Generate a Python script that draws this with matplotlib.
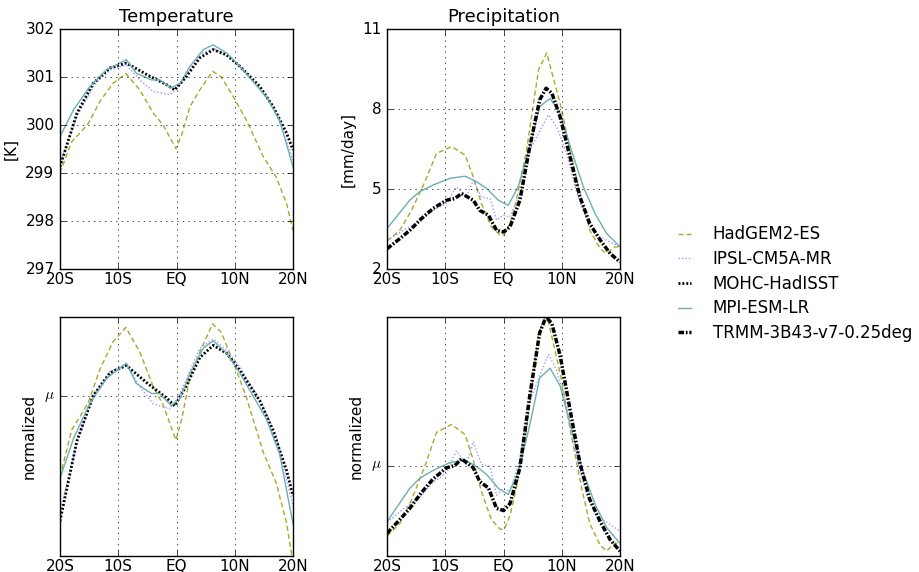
import numpy as np
import matplotlib
matplotlib.use('Agg')
import matplotlib.pyplot as plt
from matplotlib.ticker import ScalarFormatter

plt.style.use('classic')
plt.rcParams['font.family'] = ['DejaVu Sans']
plt.rcParams['figure.facecolor'] = 'white'
plt.rcParams['lines.scale_dashes'] = False

# Temperature zonal profiles [K]
lat_had_t = [-20, -18, -16.6, -15.1, -13.1, -10.9, -8.7, -6.3, -4, -2.3, -0.1, 0.9, 2.3, 4, 6.2, 7.7, 9.7, 12, 14.9, 17.1, 18.9, 20]
had_t = [299.0, 299.65, 299.83, 300.04, 300.5, 300.87, 301.07, 300.73, 300.25, 300.0, 299.51, 299.8, 300.38, 300.73, 301.12, 301.0, 300.6, 300.1, 299.34, 298.92, 298.36, 297.8]

lat_ipsl_t = [-20, -17, -14, -11.4, -8.6, -6.3, -4, -1.1, 0.6, 4, 6.3, 8.6, 11, 14.3, 17, 20]
ipsl_t = [299.2, 300.2, 300.85, 301.15, 301.25, 300.94, 300.7, 300.63, 300.84, 301.47, 301.6, 301.45, 301.2, 300.75, 300.3, 299.27]

lat_mohc_t = [-20, -17.1, -14.3, -11.4, -8.6, -5.1, -1.7, -0.3, 1.7, 4, 6.3, 8.6, 10.9, 14.3, 16.6, 18.9, 20]
mohc_t = [299.13, 300.24, 300.87, 301.19, 301.29, 301.05, 300.84, 300.73, 301.01, 301.4, 301.57, 301.46, 301.22, 300.8, 300.38, 299.83, 299.48]

lat_mpi_t = [-20, -17.7, -14.9, -12, -8.6, -6.9, -4.3, -2.9, -0.9, 0.6, 2.3, 4.6, 6.3, 8.6, 10.9, 15.4, 17.7, 20]
mpi_t = [299.76, 300.31, 300.8, 301.15, 301.36, 301.08, 300.94, 300.94, 300.77, 300.87, 301.22, 301.57, 301.67, 301.5, 301.22, 300.59, 300.1, 299.13]

# Precipitation zonal profiles [mm/day]
lat_had_p = [-20, -17.8, -15.8, -13.5, -11.5, -8.9, -6.6, -5.2, -3.8, -2.1, -0.6, 0.1, 1.1, 2.2, 3.95, 6, 7.4, 8.5, 10, 11.4, 13.4, 14.8, 16.6, 17.7, 19.1, 20]
had_p = [3.05, 3.45, 4.2, 5.27, 6.34, 6.59, 6.27, 5.46, 4.46, 3.58, 3.27, 3.27, 3.7, 4.58, 6.46, 9.47, 10.1, 9.2, 7.96, 6.46, 4.58, 3.45, 2.76, 2.58, 2.83, 2.83]

lat_ipsl_p = [-20, -17.2, -14.4, -12.1, -9.8, -8.1, -6.4, -5.2, -3.8, -2.3, -1.2, -0.1, 1.1, 2.8, 4.5, 6, 7.7, 9.1, 10.8, 12.6, 14.3, 16, 17.7, 20]
ipsl_p = [3.08, 3.45, 3.77, 4.2, 4.46, 5.08, 4.7, 5.33, 4.7, 4.64, 3.83, 4.02, 3.95, 4.83, 6.46, 7.09, 7.78, 7.34, 6.34, 4.83, 3.83, 3.27, 3.08, 2.83]

lat_mpi_p = [-20, -16.1, -14.4, -12.1, -9.2, -6.6, -4.6, -2.9, -0.9, 0.8, 2.5, 4.5, 6.2, 8, 9.7, 12, 13.7, 15.7, 17.7, 20]
mpi_p = [3.52, 4.58, 4.9, 5.15, 5.4, 5.48, 5.27, 5.02, 4.58, 4.39, 5.08, 6.59, 8.09, 8.4, 7.84, 6.21, 5.08, 4.08, 3.33, 2.83]

lat_trmm_p = [-20, -17.8, -16.1, -14.1, -12.1, -9.8, -8.4, -7.2, -5.2, -4.1, -2.6, -1.2, 0, 1.1, 2.8, 4.5, 6.2, 7.3, 8.3, 9.7, 11.4, 13.1, 14.8, 16.6, 18.3, 20]
trmm_p = [2.76, 3.14, 3.45, 3.89, 4.27, 4.58, 4.64, 4.83, 4.58, 4.2, 4.02, 3.45, 3.39, 3.58, 4.58, 6.59, 8.34, 8.78, 8.59, 7.71, 6.21, 4.71, 3.7, 3.08, 2.58, 2.26]

xticks = [-20, -10, 0, 10, 20]
xticklabels = ['20S', '10S', 'EQ', '10N', '20N']

styles = {
    'HadGEM2-ES': dict(color='#a8a82a', ls=(0, (3.6, 2.2)), lw=1.0),
    'IPSL-CM5A-MR': dict(color='#9999ff', ls=(0, (1, 1.5)), lw=1.0),
    'MOHC-HadISST': dict(color='black', ls=(0, (1.4, 1.4)), lw=2.0),
    'MPI-ESM-LR': dict(color='#6ab0b0', ls='-', lw=1.0),
    'TRMM-3B43-v7-0.25deg': dict(color='black', ls=(0, (4, 1.3, 1.2, 1.3)), lw=2.5),
}

temp = [('HadGEM2-ES', lat_had_t, had_t), ('IPSL-CM5A-MR', lat_ipsl_t, ipsl_t),
        ('MOHC-HadISST', lat_mohc_t, mohc_t), ('MPI-ESM-LR', lat_mpi_t, mpi_t)]
prec = [('HadGEM2-ES', lat_had_p, had_p), ('IPSL-CM5A-MR', lat_ipsl_p, ipsl_p),
        ('MPI-ESM-LR', lat_mpi_p, mpi_p), ('TRMM-3B43-v7-0.25deg', lat_trmm_p, trmm_p)]


def normalize(la, v):
    # divide by the latitude-weighted mean of the profile
    return v / (np.trapezoid(v, la) / (la[-1] - la[0]))


fig = plt.figure(figsize=(9.2, 5.72), dpi=100)
ax_t = fig.add_axes([0.0652, 0.5297, 0.2533, 0.4196])
ax_p = fig.add_axes([0.4207, 0.5297, 0.2533, 0.4196])
ax_tn = fig.add_axes([0.0652, 0.028, 0.2533, 0.418])
ax_pn = fig.add_axes([0.4207, 0.028, 0.2533, 0.418])

handles = {}
norm = {}
for name, la, v in temp:
    la, v = np.array(la, float), np.array(v, float)
    handles[name], = ax_t.plot(la, v, label=name, **styles[name])
    norm['t', name] = normalize(la, v)
    ax_tn.plot(la, norm['t', name], **styles[name])
for name, la, v in prec:
    la, v = np.array(la, float), np.array(v, float)
    h, = ax_p.plot(la, v, label=name, **styles[name])
    handles.setdefault(name, h)
    norm['p', name] = normalize(la, v)
    ax_pn.plot(la, norm['p', name], **styles[name])

ax_t.set_ylim(297, 302)
ax_t.set_yticks([297, 298, 299, 300, 301, 302])
ax_t.yaxis.set_major_formatter(ScalarFormatter(useOffset=False))
ax_t.set_ylabel('[K]', fontsize=11)
ax_t.set_title('Temperature', fontsize=13)

ax_p.set_ylim(2, 11)
ax_p.set_yticks([2, 5, 8, 11])
ax_p.set_ylabel('[mm/day]', fontsize=11)
ax_p.set_title('Precipitation', fontsize=13)

# y range of the normalized panels: place mu and the top curve as in the original
r = (norm['t', 'HadGEM2-ES'].max() - 1) / (0.971 - 0.669)
ax_tn.set_ylim(1 - 0.669 * r, 1 + 0.331 * r)
r = (norm['p', 'TRMM-3B43-v7-0.25deg'].max() - 1) / (1 - 0.377)
ax_pn.set_ylim(1 - 0.377 * r, 1 + 0.623 * r)
for ax in (ax_tn, ax_pn):
    ax.set_yticks([1])
    ax.set_yticklabels([r'$\mu$'])
    ax.set_ylabel('normalized', fontsize=11)

for ax in (ax_t, ax_p, ax_tn, ax_pn):
    ax.set_xlim(-20, 20)
    ax.set_xticks(xticks)
    ax.set_xticklabels(xticklabels)
    ax.tick_params(labelsize=11)
    ax.tick_params(axis='x', pad=2)
    ax.grid(True)

order = ['HadGEM2-ES', 'IPSL-CM5A-MR', 'MOHC-HadISST', 'MPI-ESM-LR', 'TRMM-3B43-v7-0.25deg']
fig.legend([handles[n] for n in order], order, loc='center left',
           bbox_to_anchor=(0.715, 0.504), frameon=False, fontsize=12,
           handlelength=1.4, handletextpad=1.0, labelspacing=0.4)

fig.savefig('out.png', dpi=100)
